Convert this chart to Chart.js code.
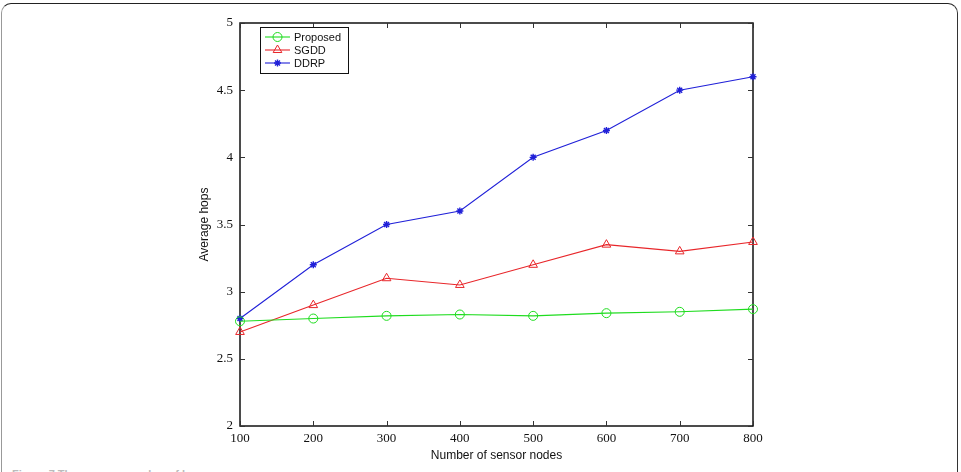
<!DOCTYPE html>
<html>
<head>
<meta charset="utf-8">
<script src="https://cdn.jsdelivr.net/npm/chart.js@4.4.1/dist/chart.umd.min.js"></script>
<style>
html,body{margin:0;padding:0;background:#fff;overflow:hidden;}
#wrap{position:relative;width:961px;height:472px;overflow:hidden;}
#frame{position:absolute;left:1px;top:3px;width:957px;height:480px;border-top:1.5px solid #222;border-left:1.5px solid #999;border-right:1.5px solid #333;border-radius:10px 10px 0 0;box-sizing:border-box;}
#cap{position:absolute;left:12px;top:468px;font:bold 11px "Liberation Sans",Arial,sans-serif;color:#bbb;white-space:nowrap;}
canvas{position:absolute;left:0;top:0;}
</style>
</head>
<body>
<div id="wrap">
<div id="frame"></div>
<div id="cap">Figure 7 The average number of hops</div>
<canvas id="c" width="961" height="472"></canvas>
</div>
<script>
const nodes = [100, 200, 300, 400, 500, 600, 700, 800];
const proposed = [2.78, 2.80, 2.82, 2.83, 2.82, 2.84, 2.85, 2.87];
const sgdd = [2.70, 2.90, 3.10, 3.05, 3.20, 3.35, 3.30, 3.37];
const ddrp = [2.80, 3.20, 3.50, 3.60, 4.00, 4.20, 4.50, 4.60];
const yTicks = [2, 2.5, 3, 3.5, 4, 4.5, 5];
const seriesNames = ['Proposed', 'SGDD', 'DDRP'];

const colors = ['#1fdc1f', '#e8262a', '#2020d8'];
const styles = ['circle', 'triangle', 'star'];

function pts(arr){ return nodes.map((x,i)=>({x:x,y:arr[i]})); }

const datasets = [proposed, sgdd, ddrp].map((arr,i)=>({
  label: seriesNames[i],
  data: pts(arr),
  borderColor: colors[i],
  backgroundColor: 'rgba(0,0,0,0)',
  pointBorderColor: colors[i],
  pointBackgroundColor: i===2 ? colors[i] : 'rgba(0,0,0,0)',
  pointStyle: styles[i],
  pointRadius: i===0 ? 4.5 : (i===1 ? 5 : 3.5),
  pointBorderWidth: i===2 ? 1.4 : 1,
  borderWidth: 1.1,
  tension: 0,
  clip: false
}));

const boxPlugin = {
  id: 'box',
  beforeDatasetsDraw(chart){
    const ctx = chart.ctx, a = chart.chartArea;
    const xs = chart.scales.x, ys = chart.scales.y;
    ctx.save();
    ctx.strokeStyle = '#111';
    ctx.lineWidth = 1.5;
    ctx.strokeRect(a.left, a.top, a.right-a.left, a.bottom-a.top);
    ctx.lineWidth = 1;
    ctx.strokeStyle = '#333';
    const tl = 5;
    nodes.forEach(v=>{
      const px = Math.round(xs.getPixelForValue(v))+0.5;
      ctx.beginPath();
      ctx.moveTo(px, a.bottom); ctx.lineTo(px, a.bottom-tl);
      ctx.moveTo(px, a.top); ctx.lineTo(px, a.top+tl);
      ctx.stroke();
    });
    yTicks.forEach(v=>{
      const py = Math.round(ys.getPixelForValue(v))+0.5;
      ctx.beginPath();
      ctx.moveTo(a.left, py); ctx.lineTo(a.left+tl, py);
      ctx.moveTo(a.right, py); ctx.lineTo(a.right-tl, py);
      ctx.stroke();
    });
    ctx.fillStyle = '#111';
    ctx.font = '12px "Liberation Sans", Arial, sans-serif';
    ctx.textAlign = 'center';
    ctx.textBaseline = 'middle';
    ctx.fillText('Number of sensor nodes', (a.left+a.right)/2, 456);
    ctx.save();
    ctx.translate(205, (a.top+a.bottom)/2);
    ctx.rotate(-Math.PI/2);
    ctx.fillText('Average hops', 0, 0);
    ctx.restore();
    ctx.restore();
  },
  afterDraw(chart){
    const ctx = chart.ctx;
    ctx.save();
    const lx = 260, ly = 27, lw = 88, lh = 46;
    ctx.fillStyle = '#fff';
    ctx.fillRect(lx, ly, lw, lh);
    ctx.strokeStyle = '#111';
    ctx.lineWidth = 1;
    ctx.strokeRect(lx+0.5, ly+0.5, lw, lh);
    ctx.font = '11px "Liberation Sans", Arial, sans-serif';
    ctx.textAlign = 'left';
    ctx.textBaseline = 'middle';
    chart.data.datasets.forEach((ds,i)=>{
      const y = ly + 10 + i*13;
      ctx.strokeStyle = ds.borderColor;
      ctx.lineWidth = 1.1;
      ctx.beginPath(); ctx.moveTo(lx+5, y); ctx.lineTo(lx+30, y); ctx.stroke();
      ctx.fillStyle = ds.pointBackgroundColor;
      ctx.strokeStyle = ds.pointBorderColor;
      ctx.lineWidth = ds.pointBorderWidth;
      Chart.helpers.drawPoint(ctx, {
        pointStyle: ds.pointStyle, radius: ds.pointRadius, borderWidth: ds.pointBorderWidth, rotation: 0
      }, lx+17.5, y);
      ctx.fillStyle = '#111';
      ctx.fillText(ds.label, lx+34, y+0.5);
    });
    ctx.restore();
  }
};

new Chart(document.getElementById('c'), {
  type: 'line',
  data: { datasets: datasets },
  options: {
    responsive: false,
    animation: false,
    events: [],
    layout: { padding: { left: 0, right: 208, top: 23, bottom: 0 } },
    plugins: { legend: { display: false }, tooltip: { enabled: false } },
    scales: {
      x: {
        type: 'linear', min: 100, max: 800,
        afterBuildTicks(s){ s.ticks = nodes.map(v=>({value:v})); },
        afterFit(s){ s.height = 46; },
        grid: { display: false, drawTicks: false },
        border: { display: false },
        ticks: { padding: 5, color: '#111', callback: v => String(v), font: { family: '"Liberation Serif", "Times New Roman", serif', size: 13 }, maxRotation: 0, autoSkip: false }
      },
      y: {
        type: 'linear', min: 2, max: 5,
        afterBuildTicks(s){ s.ticks = yTicks.map(v=>({value:v})); },
        afterFit(s){ s.width = 240; },
        grid: { display: false, drawTicks: false },
        border: { display: false },
        ticks: { padding: 7, color: '#111', callback: v => String(v), font: { family: '"Liberation Serif", "Times New Roman", serif', size: 13 }, autoSkip: false }
      }
    }
  },
  plugins: [boxPlugin]
});
</script>
</body>
</html>
